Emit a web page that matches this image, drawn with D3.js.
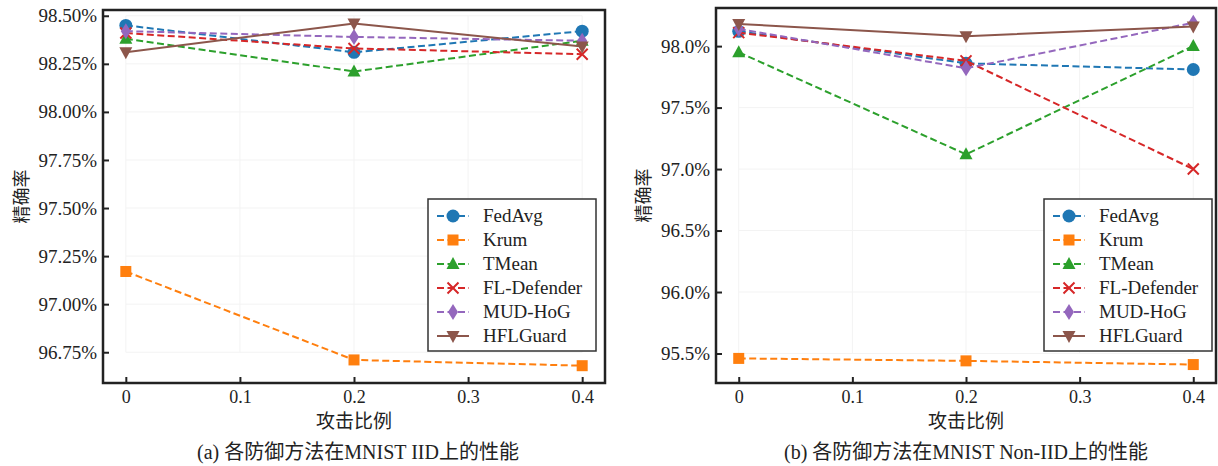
<!DOCTYPE html>
<html>
<head>
<meta charset="utf-8">
<script src="https://cdn.jsdelivr.net/npm/d3@7"></script>
<style>
  body { margin: 0; background: #fff; }
  svg { display: block; }
  .tick text { font-family: "Liberation Serif", "Times New Roman", serif; fill: #222; }
  .cjk { font-family: "Noto Sans CJK SC", sans-serif; fill: #222; }
</style>
</head>
<body>
<script>
const attackRatios = [0, 0.2, 0.4];
const xTicks = [0, 0.1, 0.2, 0.3, 0.4];
const methods = ["FedAvg", "Krum", "TMean", "FL-Defender", "MUD-HoG", "HFLGuard"];
const colors = ["#1f77b4", "#ff7f0e", "#2ca02c", "#d62728", "#9467bd", "#8c564b"];
const markers = ["circle", "square", "triangle", "x", "diamond", "triangleDown"];

// accuracy (%) on MNIST IID
const iidFedAvg = [98.45, 98.31, 98.42];
const iidKrum = [97.17, 96.71, 96.68];
const iidTMean = [98.38, 98.21, 98.37];
const iidFLDefender = [98.41, 98.33, 98.30];
const iidMUDHoG = [98.42, 98.39, 98.37];
const iidHFLGuard = [98.31, 98.46, 98.34];
const iidTicks = [96.75, 97.00, 97.25, 97.50, 97.75, 98.00, 98.25, 98.50];

// accuracy (%) on MNIST Non-IID
const nonIidFedAvg = [98.12, 97.86, 97.81];
const nonIidKrum = [95.46, 95.44, 95.41];
const nonIidTMean = [97.95, 97.12, 98.00];
const nonIidFLDefender = [98.11, 97.88, 97.00];
const nonIidMUDHoG = [98.14, 97.82, 98.19];
const nonIidHFLGuard = [98.18, 98.08, 98.16];
const nonIidTicks = [95.5, 96.0, 96.5, 97.0, 97.5, 98.0];

const W = 1218, H = 466;
const svg = d3.select("body").append("svg").attr("width", W).attr("height", H);

function drawMarker(g, type, x, y, color) {
  if (type === "circle") {
    g.append("circle").attr("cx", x).attr("cy", y).attr("r", 6.5).attr("fill", color);
  } else if (type === "square") {
    g.append("rect").attr("x", x - 5.5).attr("y", y - 5.5).attr("width", 11).attr("height", 11).attr("fill", color);
  } else if (type === "triangle") {
    g.append("path").attr("d", `M${x},${y - 7}L${x + 6.5},${y + 5}L${x - 6.5},${y + 5}Z`).attr("fill", color);
  } else if (type === "triangleDown") {
    g.append("path").attr("d", `M${x},${y + 7}L${x + 6.5},${y - 5}L${x - 6.5},${y - 5}Z`).attr("fill", color);
  } else if (type === "diamond") {
    g.append("path").attr("d", `M${x},${y - 8}L${x + 5},${y}L${x},${y + 8}L${x - 5},${y}Z`).attr("fill", color);
  } else if (type === "x") {
    g.append("path").attr("d", `M${x - 5.5},${y - 5.5}L${x + 5.5},${y + 5.5}M${x - 5.5},${y + 5.5}L${x + 5.5},${y - 5.5}`)
      .attr("stroke", color).attr("stroke-width", 2).attr("fill", "none");
  }
}

function drawPanel(opts) {
  const { left, right, top, bottom, yDomain, yTicks, yFmt, series, legendX, caption, captionX, yLabelX } = opts;
  const x = d3.scaleLinear().domain([-0.02, 0.42]).range([left, right]);
  const y = d3.scaleLinear().domain(yDomain).range([bottom, top]);
  const g = svg.append("g");

  // faint grid
  g.append("g").selectAll("line").data(yTicks).join("line")
    .attr("x1", x(0)).attr("x2", x(0.4)).attr("y1", d => y(d)).attr("y2", d => y(d))
    .attr("stroke", "#f3f3f3").attr("stroke-width", 1);
  g.append("g").selectAll("line").data(xTicks).join("line")
    .attr("x1", d => x(d)).attr("x2", d => x(d)).attr("y1", y(yTicks[0])).attr("y2", y(yTicks[yTicks.length - 1]))
    .attr("stroke", "#f3f3f3").attr("stroke-width", 1);

  // lines + markers
  series.forEach((vals, i) => {
    const pts = attackRatios.map((r, j) => [x(r), y(vals[j])]);
    g.append("path").attr("d", d3.line()(pts))
      .attr("fill", "none").attr("stroke", colors[i]).attr("stroke-width", 2)
      .attr("stroke-dasharray", methods[i] === "HFLGuard" ? null : "7,3.5");
    pts.forEach(p => drawMarker(g, markers[i], p[0], p[1], colors[i]));
  });

  // axes with inward ticks
  const xAxis = g.append("g").attr("transform", `translate(0,${bottom})`)
    .call(d3.axisBottom(x).tickValues(xTicks).tickFormat(d => d === 0 ? "0" : d3.format(".1f")(d)).tickSize(-6).tickPadding(7));
  const yAxis = g.append("g").attr("transform", `translate(${left},0)`)
    .call(d3.axisLeft(y).tickValues(yTicks).tickFormat(yFmt).tickSize(-6).tickPadding(6));
  xAxis.selectAll(".tick text").attr("font-size", 18);
  yAxis.selectAll(".tick text").attr("font-size", 19);
  [xAxis, yAxis].forEach(a => {
    a.select(".domain").remove();
    a.selectAll(".tick line").attr("stroke", "#222").attr("stroke-width", 2);
  });

  // frame
  g.append("rect").attr("x", left).attr("y", top).attr("width", right - left).attr("height", bottom - top)
    .attr("fill", "none").attr("stroke", "#222").attr("stroke-width", 2.5);

  // labels
  g.append("text").attr("class", "cjk").attr("x", (left + right) / 2).attr("y", 428)
    .attr("text-anchor", "middle").attr("font-size", 19).text("攻击比例");
  g.append("text").attr("class", "cjk").attr("transform", `translate(${yLabelX},${(top + bottom) / 2}) rotate(-90)`)
    .attr("text-anchor", "middle").attr("font-size", 18).text("精确率");
  g.append("text").attr("x", captionX).attr("y", 459).attr("text-anchor", "middle")
    .attr("font-family", "'Liberation Serif', 'Noto Sans CJK SC', serif").attr("font-size", 20).attr("fill", "#222")
    .text(caption);

  // legend
  const lg = g.append("g");
  lg.append("rect").attr("x", legendX).attr("y", 199).attr("width", 168).attr("height", 152)
    .attr("fill", "#fff").attr("stroke", "#333").attr("stroke-width", 1.5);
  methods.forEach((m, i) => {
    const ly = 216 + i * 24;
    lg.append("line").attr("x1", legendX + 9).attr("x2", legendX + 41).attr("y1", ly).attr("y2", ly)
      .attr("stroke", colors[i]).attr("stroke-width", 2)
      .attr("stroke-dasharray", m === "HFLGuard" ? null : "7,3.5");
    drawMarker(lg, markers[i], legendX + 25, ly, colors[i]);
    lg.append("text").attr("x", legendX + 55).attr("y", ly + 6)
      .attr("font-family", "'Liberation Serif', serif").attr("font-size", 19).attr("fill", "#222").text(m);
  });
}

drawPanel({
  left: 103, right: 605, top: 10, bottom: 383,
  yDomain: [96.59, 98.53], yTicks: iidTicks, yFmt: d => d.toFixed(2) + "%",
  series: [iidFedAvg, iidKrum, iidTMean, iidFLDefender, iidMUDHoG, iidHFLGuard],
  legendX: 428, caption: "(a) 各防御方法在MNIST IID上的性能", captionX: 358, yLabelX: 28
});

drawPanel({
  left: 716, right: 1216, top: 8, bottom: 383,
  yDomain: [95.26, 98.31], yTicks: nonIidTicks, yFmt: d => d.toFixed(1) + "%",
  series: [nonIidFedAvg, nonIidKrum, nonIidTMean, nonIidFLDefender, nonIidMUDHoG, nonIidHFLGuard],
  legendX: 1044, caption: "(b) 各防御方法在MNIST Non-IID上的性能", captionX: 966, yLabelX: 650
});
</script>
</body>
</html>
